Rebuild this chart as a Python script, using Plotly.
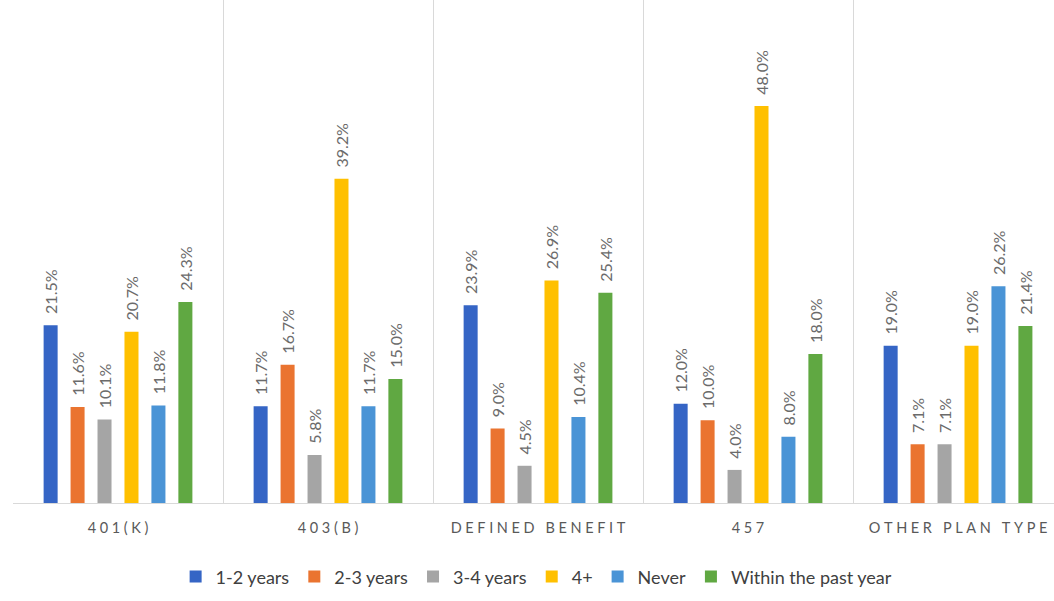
import plotly.graph_objects as go

categories = ["401(K)", "403(B)", "DEFINED BENEFIT", "457", "OTHER PLAN TYPE"]
series_names = ["1-2 years", "2-3 years", "3-4 years", "4+", "Never", "Within the past year"]
values_12 = [21.5, 11.7, 23.9, 12.0, 19.0]
values_23 = [11.6, 16.7, 9.0, 10.0, 7.1]
values_34 = [10.1, 5.8, 4.5, 4.0, 7.1]
values_4p = [20.7, 39.2, 26.9, 48.0, 19.0]
values_never = [11.8, 11.7, 10.4, 8.0, 26.2]
values_past = [24.3, 15.0, 25.4, 18.0, 21.4]
colors = ["#3565C5", "#EA7430", "#A5A5A5", "#FFC000", "#4A94D6", "#60A842"]

all_values = [values_12, values_23, values_34, values_4p, values_never, values_past]

def spaced(s):
    return "\u2005".join(list(s))

fig = go.Figure()
for name, vals, col in zip(series_names, all_values, colors):
    fig.add_trace(go.Bar(
        name=name, x=categories, y=vals, marker_color=col,
        marker_line_width=0,
        text=["\u00a0\u00a0%.1f%%" % v for v in vals],
        textposition="outside", textangle=-90, constraintext="none",
        textfont=dict(family="Lato, sans-serif", size=16, color="#6b6b6b"),
        cliponaxis=False,
    ))

fig.update_layout(
    width=1054, height=601,
    margin=dict(l=13, r=0, t=0, b=98),
    barmode="group", bargap=0.23, bargroupgap=0.48,
    plot_bgcolor="white", paper_bgcolor="white",
    font=dict(family="Lato, sans-serif", color="#595959"),
    legend=dict(orientation="h", x=0.503, xanchor="center", y=-0.11, yanchor="top",
                font=dict(size=18, color="#404040"), itemwidth=30, tracegroupgap=0),
    showlegend=True,
)
fig.update_xaxes(
    type="category", range=[-0.5, 4.457],
    tickson="boundaries", showgrid=True, gridcolor="#D9D9D9", gridwidth=1,
    ticks="", showline=True, linecolor="#D9D9D9",
    tickvals=categories, ticktext=[spaced(c) for c in categories],
    tickfont=dict(size=14.5, color="#595959"), ticklabelstandoff=12,
)
fig.update_yaxes(range=[0, 60.8], showgrid=False, showticklabels=False, zeroline=False)

fig.write_html("out.html")
